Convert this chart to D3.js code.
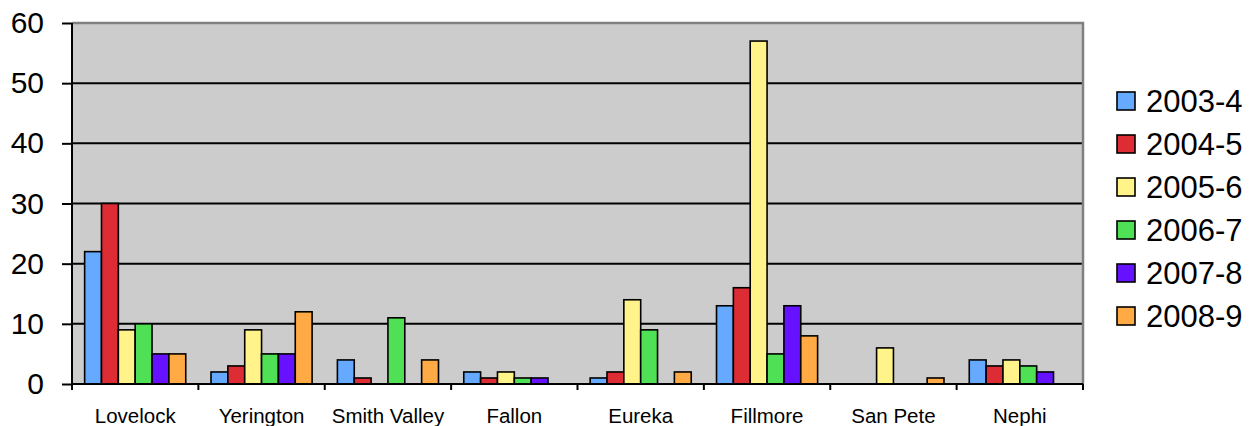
<!DOCTYPE html>
<html>
<head>
<meta charset="utf-8">
<script src="https://cdn.jsdelivr.net/npm/d3@7"></script>
<style>
  body { margin: 0; background: #fff; }
  svg { display: block; font-family: "Liberation Sans", Arial, sans-serif; }
</style>
</head>
<body>
<svg id="chart" width="1256" height="426"></svg>
<script>
const towns = ['Lovelock', 'Yerington', 'Smith Valley', 'Fallon', 'Eureka', 'Fillmore', 'San Pete', 'Nephi'];
const years = ['2003-4', '2004-5', '2005-6', '2006-7', '2007-8', '2008-9'];
const colors = ['#66aaff', '#dd2c33', '#fff38a', '#50e055', '#6611ff', '#ffaa44'];

const v2003 = [22, 2, 4, 2, 1, 13, 0, 4];
const v2004 = [30, 3, 1, 1, 2, 16, 0, 3];
const v2005 = [9, 9, 0, 2, 14, 57, 6, 4];
const v2006 = [10, 5, 11, 1, 9, 5, 0, 3];
const v2007 = [5, 5, 0, 1, 0, 13, 0, 2];
const v2008 = [5, 12, 4, 0, 2, 8, 1, 0];
const yTicks = [0, 10, 20, 30, 40, 50, 60];

const series = [v2003, v2004, v2005, v2006, v2007, v2008];

const plotL = 72, plotR = 1083, plotT = 23, plotB = 384;
const svg = d3.select('#chart');

const x0 = d3.scaleBand().domain(towns).range([plotL, plotR]);
// excel gap width 150%
const bw = x0.bandwidth() / (years.length + 1.5);
const x1 = d3.scaleBand().domain(years)
  .range([bw * 0.75, x0.bandwidth() - bw * 0.75]);
const y = d3.scaleLinear().domain([0, 60]).range([plotB, plotT]);

// plot background
svg.append('rect')
  .attr('x', plotL).attr('y', plotT)
  .attr('width', plotR - plotL).attr('height', plotB - plotT)
  .attr('fill', '#cccccc');

// grid
svg.append('g').selectAll('line')
  .data(yTicks.filter(d => d > 0 && d < 60))
  .enter().append('line')
  .attr('x1', plotL).attr('x2', plotR)
  .attr('y1', d => y(d)).attr('y2', d => y(d))
  .attr('stroke', '#000').attr('stroke-width', 2);

// grey border top / right
svg.append('path')
  .attr('d', `M${plotL},${plotT}H${plotR}V${plotB}`)
  .attr('fill', 'none').attr('stroke', '#808080').attr('stroke-width', 2.5);

// bars
const rows = [];
towns.forEach((t, i) => {
  years.forEach((yr, j) => {
    if (series[j][i] > 0) rows.push({ town: t, year: yr, value: series[j][i], color: colors[j] });
  });
});

svg.append('g').selectAll('rect')
  .data(rows)
  .enter().append('rect')
  .attr('x', d => x0(d.town) + x1(d.year))
  .attr('y', d => y(d.value))
  .attr('width', x1.bandwidth())
  .attr('height', d => y(0) - y(d.value))
  .attr('fill', d => d.color)
  .attr('stroke', '#000')
  .attr('stroke-width', 1.6);

// y axis
const yAxis = svg.append('g')
  .attr('transform', `translate(${plotL},0)`)
  .call(d3.axisLeft(y).tickValues(yTicks).tickSize(10).tickPadding(18));
yAxis.select('.domain').attr('d', `M0,${plotT}V${plotB + 6}`).attr('stroke-width', 2);
yAxis.selectAll('.tick line').attr('stroke-width', 2);
yAxis.selectAll('text')
  .attr('font-size', 30)
  .attr('font-family', '"Liberation Sans", Arial, sans-serif')
  .attr('fill', '#000');

// x axis with ticks between groups
const xAxis = svg.append('g')
  .attr('transform', `translate(0,${plotB})`)
  .call(d3.axisBottom(x0).tickSize(0).tickPadding(24));
xAxis.select('.domain').attr('d', `M${plotL},0H${plotR}`).attr('stroke-width', 2);
xAxis.selectAll('text')
  .attr('font-size', 20.5)
  .attr('font-family', '"Liberation Sans", Arial, sans-serif')
  .attr('fill', '#000');

svg.append('g').selectAll('line')
  .data(towns.slice(1).map(t => x0(t)).concat([plotR]))
  .enter().append('line')
  .attr('x1', d => d).attr('x2', d => d)
  .attr('y1', plotB).attr('y2', plotB + 6)
  .attr('stroke', '#000').attr('stroke-width', 2);

// legend
const legend = svg.append('g').attr('transform', 'translate(1117,92)');
const item = legend.selectAll('g')
  .data(years)
  .enter().append('g')
  .attr('transform', (d, i) => `translate(0,${i * 43})`);
item.append('rect')
  .attr('width', 18).attr('height', 18)
  .attr('fill', (d, i) => colors[i])
  .attr('stroke', '#000').attr('stroke-width', 1.6);
item.append('text')
  .attr('x', 29).attr('y', 20)
  .attr('font-size', 31)
  .attr('fill', '#000')
  .text(d => d);
</script>
</body>
</html>
